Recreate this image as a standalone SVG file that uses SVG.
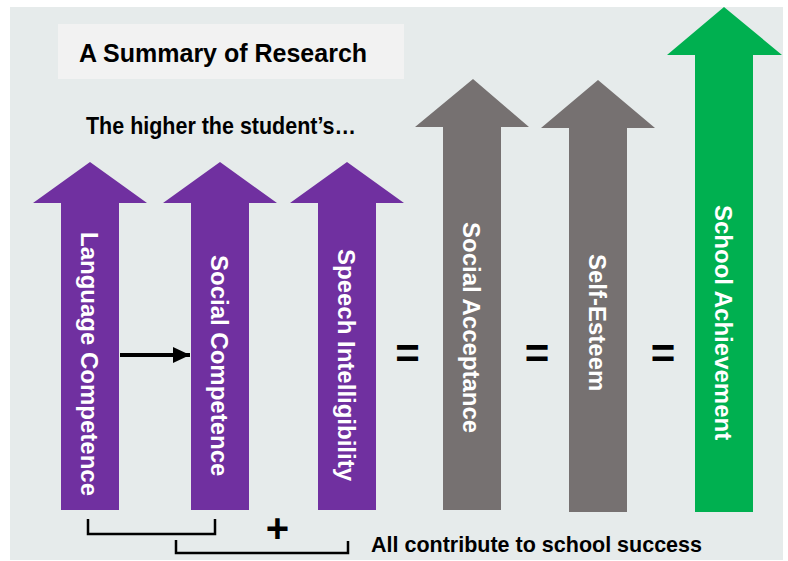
<svg xmlns="http://www.w3.org/2000/svg" width="788" height="561" viewBox="0 0 788 561">
  <style>
    .purple { fill: #7030A0; }
    .gray { fill: #767171; }
    .green { fill: #00B050; }
    .label { font-family: "Liberation Sans", Arial, sans-serif; font-weight: bold; font-size: 24px; fill: #FFFFFF; }
    .dark { font-family: "Liberation Sans", Arial, sans-serif; font-weight: bold; fill: #000000; }
    .bracket { fill: none; stroke: #000000; stroke-width: 2.5; }
  </style>
  <defs>
    <marker id="head" markerUnits="userSpaceOnUse" markerWidth="18" markerHeight="18" refX="17" refY="8" orient="auto">
      <polygon points="0,0 17,8 0,16" fill="#000000"/>
    </marker>
  </defs>

  <rect width="788" height="561" fill="#FFFFFF"/>
  <rect x="10" y="7" width="773" height="553" fill="#E6EBEB"/>

  <!-- heading -->
  <g id="title">
    <rect x="58" y="24" width="346" height="55" fill="#F2F2F2"/>
    <text class="dark" x="79" y="62" font-size="25">A Summary of Research</text>
  </g>
  <g id="intro">
    <text class="dark" x="86" y="134" font-size="24" textLength="270" lengthAdjust="spacingAndGlyphs">The higher the student’s…</text>
  </g>

  <!-- upward arrows -->
  <g id="language-competence">
    <polygon class="purple" points="90,162 147,203 119,203 119,510 61,510 61,203 33,203"/>
    <text class="label" transform="translate(81,232) rotate(90)">Language Competence</text>
  </g>
  <g id="social-competence">
    <polygon class="purple" points="220,162 277,203 249,203 249,510 191,510 191,203 163,203"/>
    <text class="label" transform="translate(211,255) rotate(90)">Social Competence</text>
  </g>
  <g id="speech-intelligibility">
    <polygon class="purple" points="347,162 404,203 376,203 376,510 318,510 318,203 290,203"/>
    <text class="label" transform="translate(338,249) rotate(90)">Speech Intelligibility</text>
  </g>
  <g id="social-acceptance">
    <polygon class="gray" points="473,79 529,127 501,127 501,510 443,510 443,127 415,127"/>
    <text class="label" transform="translate(463,222) rotate(90)">Social Acceptance</text>
  </g>
  <g id="self-esteem">
    <polygon class="gray" points="598,80 655,128 627,128 627,512 569,512 569,128 541,128"/>
    <text class="label" transform="translate(589,254) rotate(90)">Self-Esteem</text>
  </g>
  <g id="school-achievement">
    <polygon class="green" points="724,7 782,55 753,55 753,512 695,512 695,55 667,55"/>
    <text class="label" transform="translate(715,205) rotate(90)">School Achievement</text>
  </g>

  <!-- operators -->
  <g id="operators">
    <text class="dark" x="407.5" y="368" font-size="42" text-anchor="middle">=</text>
    <text class="dark" x="537" y="368" font-size="42" text-anchor="middle">=</text>
    <text class="dark" x="663" y="368" font-size="42" text-anchor="middle">=</text>
    <text class="dark" x="277.5" y="542" font-size="40" text-anchor="middle">+</text>
  </g>

  <!-- connectors -->
  <g id="connectors">
    <line x1="120" y1="355" x2="190" y2="355" stroke="#000000" stroke-width="4" marker-end="url(#head)"/>
    <polyline class="bracket" points="88,519 88,534 215,534 215,519"/>
    <polyline class="bracket" points="176,540 176,553 348,553 348,541"/>
  </g>

  <g id="footnote">
    <text class="dark" x="371" y="552" font-size="22" textLength="331" lengthAdjust="spacingAndGlyphs">All contribute to school success</text>
  </g>
</svg>
